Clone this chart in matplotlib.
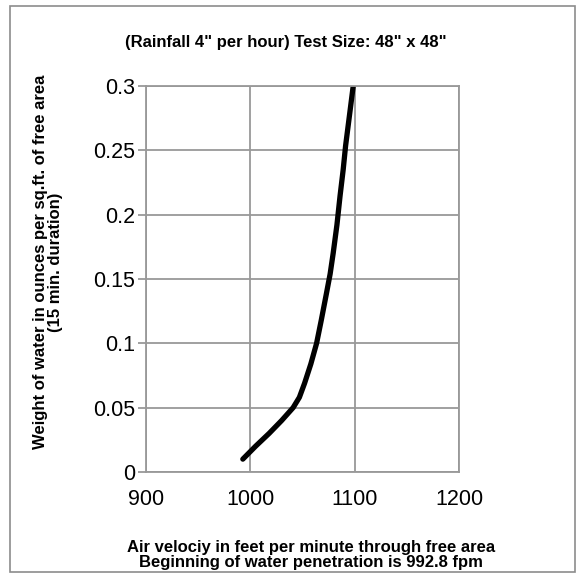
import matplotlib

matplotlib.use("Agg")
import matplotlib.pyplot as plt
from matplotlib.patches import Rectangle

# air velocity (fpm) vs weight of water (oz per sq.ft.)
velocity = [992.8, 1005, 1018, 1030, 1041, 1047, 1052, 1058, 1063.5, 1068,
            1073, 1076.5, 1079.4, 1083, 1086, 1089, 1091.3, 1095, 1098.6]
weight = [0.010, 0.020, 0.030, 0.040, 0.050, 0.058, 0.069, 0.084, 0.100, 0.118,
          0.139, 0.154, 0.170, 0.192, 0.2146, 0.235, 0.2535, 0.277, 0.300]

x_ticks = [900, 1000, 1100, 1200]
y_ticks = [0, 0.05, 0.1, 0.15, 0.2, 0.25, 0.3]
y_tick_labels = ["0", "0.05", "0.1", "0.15", "0.2", "0.25", "0.3"]

GRID_C = "#999999"

plt.rcParams["font.family"] = ["Liberation Sans", "DejaVu Sans"]

fig = plt.figure(figsize=(5.85, 5.8), dpi=100)
fig.patches.append(Rectangle((10 / 585, 8 / 580), 565 / 585, 566 / 580,
                             transform=fig.transFigure, fill=False,
                             edgecolor="#8c8c8c", linewidth=1.2))

ax = fig.add_axes([146 / 585, 1 - 472 / 580, 313 / 585, 386 / 580])
ax.plot(velocity, weight, color="black", linewidth=3.8, solid_capstyle="round")
ax.set_xlim(900, 1200)
ax.set_ylim(0, 0.3)
ax.set_xticks(x_ticks, [str(v) for v in x_ticks])
ax.set_yticks(y_ticks, y_tick_labels)
ax.grid(True, color=GRID_C, linewidth=1.3)
ax.set_axisbelow(True)
for s in ax.spines.values():
    s.set_color(GRID_C)
    s.set_linewidth(1.3)
ax.tick_params(axis="y", length=6, width=1.3, color=GRID_C, labelsize=15.5, pad=2)
ax.tick_params(axis="x", length=0, labelsize=15.5, pad=12)

fig.text(286 / 585, 1 - 43 / 580, '(Rainfall 4" per hour) Test Size: 48" x 48"',
         ha="center", va="center", fontsize=12, fontweight="bold")
fig.text(311 / 585, 1 - 555 / 580,
         "Air velociy in feet per minute through free area\n"
         "Beginning of water penetration is 992.8 fpm",
         ha="center", va="center", fontsize=12, fontweight="bold", linespacing=1.0)
fig.text(48 / 585, 1 - 262 / 580,
         "Weight of water in ounces per sq.ft. of free area\n(15 min. duration)",
         ha="center", va="center", rotation=90, fontsize=12, fontweight="bold",
         linespacing=1.0)

fig.savefig("out.png", dpi=100)
